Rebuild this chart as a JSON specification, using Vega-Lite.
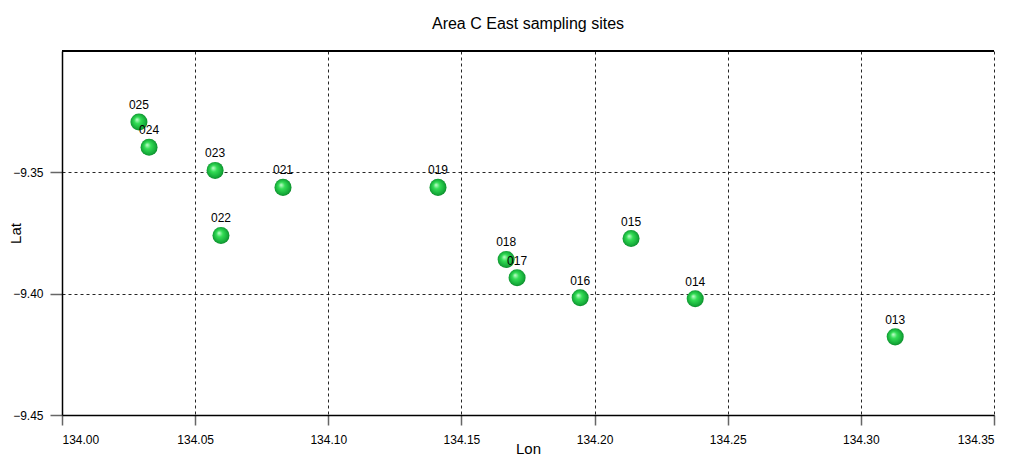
{
  "$schema": "https://vega.github.io/schema/vega-lite/v6.json",
  "autosize": "none",
  "width": 932,
  "height": 364,
  "padding": {"left": 62, "top": 51, "right": 19, "bottom": 42},
  "background": "white",
  "config": {
    "view": {"stroke": null},
    "font": "Liberation Sans",
    "axis": {
      "labelFont": "Liberation Sans",
      "titleFont": "Liberation Sans",
      "labelFontSize": 12,
      "labelColor": "#000000",
      "titleFontSize": 15,
      "titleFontWeight": "normal",
      "titleColor": "#000000",
      "domainColor": "#000000",
      "domainWidth": 1.5,
      "tickColor": "#666666",
      "tickWidth": 1.5,
      "grid": true,
      "gridColor": "#000000",
      "gridDash": [3, 3],
      "gridWidth": 1,
      "gridOpacity": 0.85
    }
  },
  "title": {
    "text": "Area C East sampling sites",
    "font": "Liberation Sans",
    "fontSize": 16,
    "fontWeight": "normal",
    "color": "#000000",
    "anchor": "middle",
    "offset": 18
  },
  "data": {
    "values": [
      {"site": "025", "lon": 134.0289, "lat": -9.3293},
      {"site": "024", "lon": 134.0327, "lat": -9.3397},
      {"site": "023", "lon": 134.0575, "lat": -9.3492},
      {"site": "021", "lon": 134.0830, "lat": -9.3562},
      {"site": "022", "lon": 134.0597, "lat": -9.3760},
      {"site": "019", "lon": 134.1412, "lat": -9.3562},
      {"site": "018", "lon": 134.1668, "lat": -9.3859},
      {"site": "017", "lon": 134.1709, "lat": -9.3934},
      {"site": "016", "lon": 134.1946, "lat": -9.4017},
      {"site": "015", "lon": 134.2137, "lat": -9.3773},
      {"site": "014", "lon": 134.2378, "lat": -9.4021},
      {"site": "013", "lon": 134.3129, "lat": -9.4178}
    ]
  },
  "encoding": {
    "x": {
      "field": "lon",
      "type": "quantitative",
      "scale": {"domain": [134.0, 134.35], "nice": false, "zero": false},
      "axis": {
        "title": "Lon",
        "values": [134.0, 134.05, 134.1, 134.15, 134.2, 134.25, 134.3, 134.35],
        "format": ".2f",
        "tickSize": 10,
        "labelPadding": 9,
        "titleY": 41,
        "titleBaseline": "bottom"
      }
    },
    "y": {
      "field": "lat",
      "type": "quantitative",
      "scale": {"domain": [-9.45, -9.3], "nice": false, "zero": false},
      "axis": {
        "title": "Lat",
        "values": [-9.45, -9.4, -9.35],
        "format": ".2f",
        "tickSize": 12,
        "labelPadding": 7,
        "titleX": -47,
        "titleY": 182,
        "titleAngle": -90,
        "titleAlign": "center",
        "titleBaseline": "middle"
      }
    }
  },
  "layer": [
    {
      "mark": {"type": "rule", "color": "#000000", "strokeWidth": 1.5},
      "encoding": {"y": {"datum": -9.3}, "x": null}
    },
    {
      "mark": {
        "type": "point",
        "shape": "circle",
        "filled": true,
        "size": 290,
        "opacity": 1,
        "color": {
          "gradient": "radial",
          "x1": 0.38, "y1": 0.35, "r1": 0,
          "x2": 0.5, "y2": 0.5, "r2": 0.55,
          "stops": [
            {"offset": 0, "color": "#c8ffd2"},
            {"offset": 0.35, "color": "#33dd55"},
            {"offset": 0.8, "color": "#14a838"},
            {"offset": 1, "color": "#0b7a25"}
          ]
        }
      }
    },
    {
      "mark": {"type": "text", "dy": -17, "fontSize": 12, "color": "#000000", "font": "Liberation Sans"},
      "encoding": {"text": {"field": "site", "type": "nominal"}}
    }
  ]
}
